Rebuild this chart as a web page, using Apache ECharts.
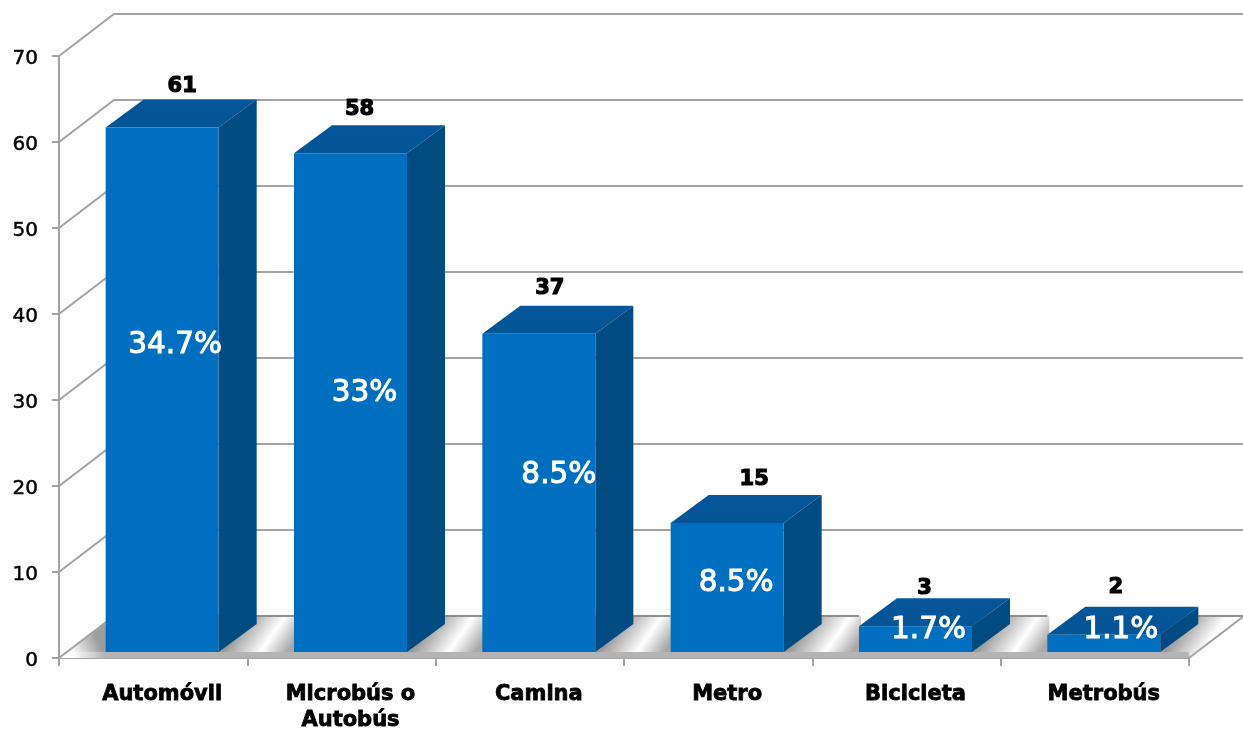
<!DOCTYPE html>
<html>
<head>
<meta charset="utf-8">
<script src="https://cdn.jsdelivr.net/npm/echarts@6/dist/echarts.min.js"></script>
<style>html,body{margin:0;padding:0;background:#fff}#c{width:1243px;height:732px}</style>
</head>
<body>
<div id="c"></div>
<script>
const categories = ['Automóvil', 'Microbús o\nAutobús', 'Camina', 'Metro', 'Bicicleta', 'Metrobús'];
const values = [61, 58, 37, 15, 3, 2];
const percentLabels = ['34.7%', '33%', '8.5%', '8.5%', '1.7%', '1.1%'];
const yTicks = [0, 10, 20, 30, 40, 50, 60, 70];

// Layout of the fake 3D projection (pixels)
const WALL_DX = 55, WALL_DY = -42;
const BAR_DX = 38, BAR_DY = -28;
const BAR_SHIFT_X = 9, BAR_SHIFT_Y = -6;
const BAR_W = 113;
const valueNudge = [[20, -13], [9, -16], [11, -17], [27, -15], [9, -10], [12, -19]];
const percentNudge = [[13, 307], [14, 259], [20, 177], [9, 69], [13, 22], [17, 22]];

const LINE = '#a3a3a3';
const Grad = echarts.graphic.LinearGradient;

function barBox(api, i) {
  const band = api.size([1, 0])[0];
  const top = api.coord([i, values[i]]);
  const base = api.coord([i, 0]);
  const cx = top[0] + BAR_SHIFT_X;
  return {
    band,
    cx,
    l: cx - BAR_W / 2,
    r: cx + BAR_W / 2,
    t: top[1] + BAR_SHIFT_Y,
    b: base[1] + BAR_SHIFT_Y
  };
}
function poly(points, fill, z) {
  return { type: 'polygon', shape: { points }, style: { fill }, z2: z || 0 };
}

function renderWall(params, api) {
  const v = api.value(1);
  const p = api.coord([0, v]);
  const x0 = params.coordSys.x;
  const right = x0 + params.coordSys.width;
  const y = p[1];
  return {
    type: 'polyline',
    shape: { points: [[x0, y], [x0 + WALL_DX, y + WALL_DY], [right + WALL_DX, y + WALL_DY]] },
    style: { stroke: LINE, lineWidth: 2, fill: null }
  };
}

function renderFloor(params, api) {
  const i = api.value(0);
  const b = barBox(api, i);
  const cs = params.coordSys;
  const right = cs.x + cs.width;
  const yF = cs.y + cs.height;
  const yB = yF + WALL_DY;
  const last = i === categories.length - 1;
  const children = [];
  if (i === 0) {
    children.push(poly([[cs.x, yF], [b.l, yF + (b.l - cs.x) * WALL_DY / WALL_DX], [b.l + 2, yF]],
      new Grad(cs.x + 14, yF - 2, b.l - 6, yF - 14, [
        { offset: 0, color: '#ffffff' }, { offset: 1, color: '#9c9c9c' }
      ], true)));
  }
  const nextL = last ? right + WALL_DX : b.l + b.band;
  const pts = last
    ? [[b.r - 2, yF], [b.r - 2, yB], [right + WALL_DX, yB], [right, yF]]
    : [[b.r - 2, yF], [b.r - 2, yB], [nextL + 2, yB], [nextL + 2, yF]];
  const stops = last
    ? [{ offset: 0, color: '#9a9a9a' }, { offset: 0.58, color: '#ffffff' }, { offset: 1, color: '#ffffff' }]
    : [{ offset: 0, color: '#9a9a9a' }, { offset: 0.58, color: '#ffffff' }, { offset: 1, color: '#a8a8a8' }];
  children.push(poly(pts, new Grad(b.r + 20, yF - 28, b.r + 63, yF + 2, stops, true)));
  // front band under the bars
  const bandL = i === 0 ? cs.x + 14 : b.l - 2;
  const bandR = last ? right : b.l + b.band + 2;
  children.push({
    type: 'rect',
    shape: { x: bandL, y: b.b, width: bandR - bandL, height: yF - b.b },
    style: {
      fill: i === 0
        ? new Grad(cs.x + 14, 0, b.l, 0, [{ offset: 0, color: '#ffffff' }, { offset: 1, color: '#b4b4b4' }], true)
        : '#b4b4b4'
    }
  });
  // back and front edges of the floor
  children.push({ type: 'line', shape: { x1: i === 0 ? cs.x + WALL_DX : b.r, y1: yB, x2: last ? right + WALL_DX : nextL, y2: yB }, style: { stroke: '#8f8f8f', lineWidth: 2 } });
  if (last) {
    children.push({ type: 'line', shape: { x1: right, y1: yF, x2: right + WALL_DX, y2: yB }, style: { stroke: LINE, lineWidth: 2 } });
  }
  if (i === 0) {
    children.push({ type: 'line', shape: { x1: cs.x, y1: yF, x2: cs.x + WALL_DX, y2: yB }, style: { stroke: LINE, lineWidth: 2 } });
  }
  return { type: 'group', children };
}

function renderBar(params, api) {
  const i = api.value(0);
  const b = barBox(api, i);
  return {
    type: 'group',
    children: [
      poly([[b.l, b.t], [b.r, b.t], [b.r + BAR_DX, b.t + BAR_DY], [b.l + BAR_DX, b.t + BAR_DY]],
        new Grad(0, 0, 0, 1, [{ offset: 0, color: '#05569a' }, { offset: 1, color: '#035595' }])),
      poly([[b.r, b.t], [b.r + BAR_DX, b.t + BAR_DY], [b.r + BAR_DX, b.b + BAR_DY], [b.r, b.b]], '#004b82'),
      { type: 'rect', shape: { x: b.l, y: b.t, width: BAR_W, height: b.b - b.t }, style: { fill: '#006fc0' } }
    ]
  };
}

function renderLabels(params, api) {
  const i = api.value(0);
  const b = barBox(api, i);
  const vn = valueNudge[i], pn = percentNudge[i];
  return {
    type: 'group',
    children: [
      {
        type: 'text',
        style: {
          x: b.cx + vn[0], y: b.t + BAR_DY + vn[1], text: String(values[i]),
          fontFamily: 'DejaVu Sans', fontWeight: 'bold', fontSize: 21, fill: '#000',
          stroke: '#000', lineWidth: 1.2, align: 'center', verticalAlign: 'middle'
        }
      },
      {
        type: 'text',
        style: {
          x: b.cx + pn[0], y: b.b - pn[1], text: percentLabels[i],
          fontFamily: 'DejaVu Sans', fontSize: 29.5, fill: '#fff',
          stroke: '#fff', lineWidth: 1, align: 'center', verticalAlign: 'middle'
        }
      }
    ]
  };
}

const idx = categories.map((c, i) => [i, values[i]]);
const option = {
  animation: false,
  backgroundColor: '#fff',
  grid: { left: 59, right: 54, top: 56, bottom: 74, outerBoundsMode: 'none' },
  xAxis: {
    type: 'category',
    data: categories,
    axisLine: { lineStyle: { color: LINE, width: 2 } },
    axisTick: { show: true, length: 8, lineStyle: { color: LINE, width: 2 } },
    axisLabel: {
      color: '#000', fontFamily: 'DejaVu Sans', fontWeight: 'bold', fontSize: 21, margin: 24,
      lineHeight: 26, padding: [0, 0, 0, 18], textBorderColor: '#000', textBorderWidth: 0.8,
      interval: 0, hideOverlap: false
    },
    splitLine: { show: false }
  },
  yAxis: {
    type: 'value',
    min: 0, max: 70, interval: 10,
    axisLine: { show: true, lineStyle: { color: LINE, width: 2 } },
    axisTick: { show: true, length: 7, lineStyle: { color: LINE, width: 2 } },
    axisLabel: {
      color: '#000', fontFamily: 'DejaVu Sans', fontSize: 20, margin: 21,
      verticalAlign: 'top', lineHeight: 6,
      textBorderColor: '#000', textBorderWidth: 0.5,
      formatter: v => yTicks.includes(v) ? String(v) : ''
    },
    splitLine: { show: false }
  },
  series: [
    { type: 'custom', name: 'wall', z: 1, silent: true, data: yTicks.filter(v => v > 0).map(v => [0, v]), renderItem: renderWall, encode: { x: 0, y: 1 } },
    { type: 'custom', name: 'floor', z: 2, silent: true, data: idx, renderItem: renderFloor, encode: { x: 0, y: 1 } },
    { type: 'custom', name: 'bars', z: 3, silent: true, data: idx, renderItem: renderBar, encode: { x: 0, y: 1 } },
    { type: 'custom', name: 'labels', z: 4, silent: true, data: idx, renderItem: renderLabels, encode: { x: 0, y: 1 } }
  ]
};
const chart = echarts.init(document.getElementById('c'));
chart.setOption(option);
</script>
</body>
</html>
